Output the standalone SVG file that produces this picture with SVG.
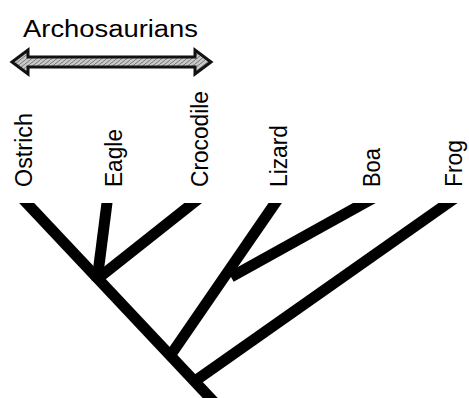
<svg xmlns="http://www.w3.org/2000/svg" width="469" height="398" viewBox="0 0 469 398">
<style>
.lbl{font-family:"Liberation Sans",Arial,sans-serif;font-size:23px;fill:#000}
.br{stroke:#000;stroke-width:11;stroke-linecap:butt;fill:none}
</style>
<defs>
<clipPath id="treeclip"><rect x="0" y="203" width="469" height="195"/></clipPath>
<pattern id="hatch" width="5" height="4" patternUnits="userSpaceOnUse">
<rect width="5" height="4" fill="#c8c8c8"/>
<path d="M0 4 L5 0" stroke="#777" stroke-width="1"/>
</pattern>
</defs>
<rect width="469" height="398" fill="#fff"/>
<g id="archosaurians">
<text class="lbl" x="23" y="37" font-size="22" textLength="175" lengthAdjust="spacingAndGlyphs">Archosaurians</text>
<polygon points="12,62 28,50 28,57 195,57 195,50 211,62 195,74 195,67 28,67 28,74" fill="url(#hatch)" stroke="#111" stroke-width="3" stroke-linejoin="miter"/>
</g>
<g id="labels">
<g id="ostrich"><text class="lbl" transform="translate(32,187) rotate(-90)" textLength="74" lengthAdjust="spacingAndGlyphs">Ostrich</text></g>
<g id="eagle"><text class="lbl" transform="translate(122,187) rotate(-90)" textLength="58" lengthAdjust="spacingAndGlyphs">Eagle</text></g>
<g id="crocodile"><text class="lbl" transform="translate(208,187) rotate(-90)" textLength="96" lengthAdjust="spacingAndGlyphs">Crocodile</text></g>
<g id="lizard"><text class="lbl" transform="translate(287,187) rotate(-90)" textLength="62" lengthAdjust="spacingAndGlyphs">Lizard</text></g>
<g id="boa"><text class="lbl" transform="translate(380,187) rotate(-90)" textLength="39" lengthAdjust="spacingAndGlyphs">Boa</text></g>
<g id="frog"><text class="lbl" transform="translate(462,187) rotate(-90)" textLength="47" lengthAdjust="spacingAndGlyphs">Frog</text></g>
</g>
<g id="connectors" clip-path="url(#treeclip)">
<line class="br" x1="21" y1="197" x2="214" y2="402"/>
<line class="br" x1="108" y1="195" x2="97" y2="281"/>
<line class="br" x1="202" y1="196" x2="96" y2="280"/>
<line class="br" x1="280" y1="196" x2="170" y2="356"/>
<line class="br" x1="377" y1="196" x2="231" y2="277"/>
<line class="br" x1="458" y1="196" x2="195" y2="381"/>
</g>
</svg>
